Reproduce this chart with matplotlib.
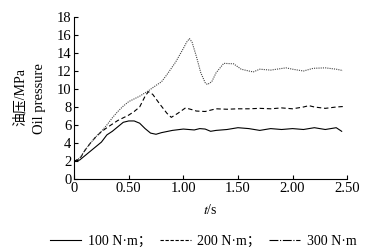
import matplotlib
matplotlib.use("Agg")
import matplotlib.pyplot as plt
from matplotlib.lines import Line2D

plt.rcParams['font.family'] = ['Liberation Serif', 'Noto Sans CJK SC']
plt.rcParams['mathtext.fontset'] = 'stix'

t100 = [0, 0.05, 0.1, 0.15, 0.2, 0.25, 0.3, 0.35, 0.4, 0.45, 0.5, 0.55, 0.6, 0.65, 0.7, 0.75, 0.8, 0.9, 1.0, 1.1, 1.15, 1.2, 1.25, 1.3, 1.4, 1.5, 1.6, 1.7, 1.8, 1.9, 2.0, 2.1, 2.2, 2.3, 2.4, 2.45]
v100 = [2.0, 2.1, 2.6, 3.1, 3.6, 4.1, 4.9, 5.3, 5.8, 6.3, 6.45, 6.45, 6.2, 5.6, 5.1, 4.97, 5.15, 5.4, 5.55, 5.45, 5.6, 5.55, 5.3, 5.4, 5.5, 5.7, 5.6, 5.4, 5.6, 5.5, 5.6, 5.5, 5.7, 5.5, 5.7, 5.3]

t200 = [0, 0.05, 0.1, 0.15, 0.2, 0.25, 0.3, 0.35, 0.4, 0.45, 0.5, 0.55, 0.6, 0.65, 0.68, 0.72, 0.78, 0.85, 0.89, 0.95, 1.02, 1.08, 1.12, 1.2, 1.3, 1.4, 1.5, 1.6, 1.7, 1.8, 1.9, 2.0, 2.1, 2.15, 2.2, 2.3, 2.4, 2.46]
v200 = [2.0, 2.2, 3.2, 4.0, 4.7, 5.25, 5.7, 6.1, 6.5, 6.8, 7.1, 7.5, 8.0, 9.2, 9.7, 9.4, 8.4, 7.3, 6.85, 7.3, 7.9, 7.7, 7.55, 7.5, 7.8, 7.75, 7.8, 7.8, 7.85, 7.8, 7.9, 7.8, 8.0, 8.15, 8.0, 7.85, 8.0, 8.05]

t300 = [0, 0.05, 0.1, 0.15, 0.2, 0.25, 0.3, 0.35, 0.4, 0.45, 0.5, 0.55, 0.6, 0.68, 0.75, 0.8, 0.85, 0.93, 1.0, 1.03, 1.056, 1.08, 1.12, 1.16, 1.2, 1.22, 1.26, 1.3, 1.37, 1.46, 1.53, 1.6, 1.64, 1.7, 1.8, 1.94, 2.0, 2.1, 2.19, 2.3, 2.4, 2.46]
v300 = [2.0, 2.3, 3.2, 4.0, 4.7, 5.3, 6.0, 6.8, 7.5, 8.1, 8.6, 8.9, 9.2, 9.8, 10.4, 10.8, 11.6, 13.0, 14.5, 15.2, 15.6, 15.2, 13.6, 11.8, 10.7, 10.5, 10.8, 11.8, 12.85, 12.8, 12.2, 12.0, 11.9, 12.2, 12.1, 12.35, 12.2, 12.0, 12.3, 12.35, 12.2, 12.05]

xticks = [0, 0.5, 1.0, 1.5, 2.0, 2.5]
xticklabels = ['0', '0.50', '1.00', '1.50', '2.00', '2.50']
yticks = [0, 2, 4, 6, 8, 10, 12, 14, 16, 18]

fig = plt.figure(figsize=(3.84, 2.5), dpi=100)
ax = fig.add_axes([0.193, 0.284, 0.711, 0.648])

ax.plot(t100, v100, color='black', lw=0.8, ls='-')
ax.plot(t200, v200, color='black', lw=0.8, ls=(0, (4, 2.5)))
ax.plot(t300, v300, color='#444444', lw=0.8, ls=(0, (1, 1)))

ax.set_xlim(0, 2.5)
ax.set_ylim(0, 18)
ax.set_xticks(xticks)
ax.set_xticklabels(xticklabels)
ax.set_yticks(yticks)
ax.spines['top'].set_visible(False)
ax.spines['right'].set_visible(False)
ax.tick_params(direction='in', length=3, width=0.8, labelsize=10.5, pad=2)
for s in ['left', 'bottom']:
    ax.spines[s].set_linewidth(0.8)

ax.set_xlabel('$t$/s', fontsize=10, labelpad=6)
fig.text(0.052, 0.61, '油压/MPa', rotation=90, ha='center', va='center', fontsize=10,
         family=['Liberation Serif', 'Noto Sans CJK SC'])
fig.text(0.103, 0.605, 'Oil pressure', rotation=90, ha='center', va='center', fontsize=10.5)

handles = [Line2D([], [], color='black', lw=0.8, ls='-'),
           Line2D([], [], color='black', lw=0.8, ls=(0, (3, 1.5))),
           Line2D([], [], color='black', lw=0.8, ls=(0, (8, 1.5, 1, 1.5)))]
labels = ['100 N·m；', '200 N·m；', '300 N·m']
fig.legend(handles, labels, loc='center', bbox_to_anchor=(0.53, 0.035), ncol=3, frameon=False,
           handlelength=2.2, handletextpad=0.5, columnspacing=0.6,
           prop={'family': ['Liberation Serif', 'Noto Sans CJK SC'], 'size': 10})

fig.savefig('out.png', dpi=100)
